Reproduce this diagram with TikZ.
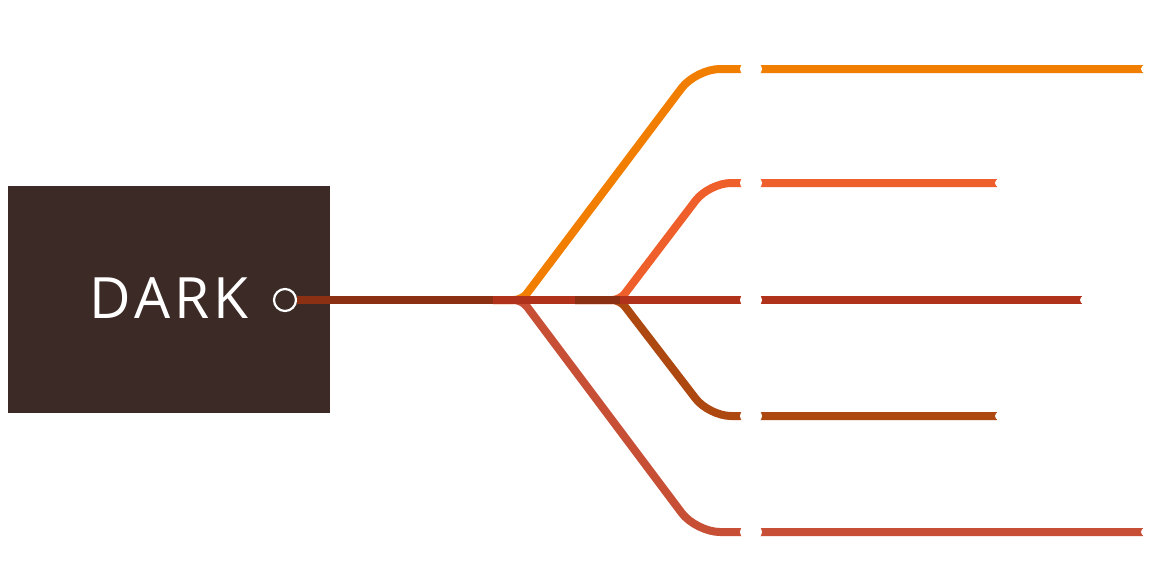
\documentclass[tikz,border=0pt]{standalone}
\usepackage{fontspec}
\setmainfont{Open Sans}
\newfontfamily\labelfont[LetterSpace=7]{Open Sans}
\usetikzlibrary{calc,shapes.geometric}
\definecolor{boxc}{HTML}{3C2A26}
\definecolor{trunkc}{HTML}{8B3012}
\definecolor{orangec}{HTML}{F27E00}
\definecolor{upperc}{HTML}{EF5F2B}
\definecolor{midc}{HTML}{B1321A}
\definecolor{lowerc}{HTML}{AE4811}
\definecolor{bottomc}{HTML}{C64F35}
\begin{document}
\begin{tikzpicture}[x=1pt,y=-1pt,
  branch/.style={line width=8pt, line cap=butt},
  topicdot/.style={ellipse, fill=white, minimum width=22pt, minimum height=16pt, inner sep=0pt},
  endnotch/.style={circle, fill=white, minimum size=8pt, inner sep=0pt}]
\useasboundingbox (0,0) rectangle (1173,568);
% root
\node[fill=boxc, minimum width=322pt, minimum height=227pt, inner sep=0pt, anchor=north west] (root) at (8,186) {};
\node[text=white, font=\labelfont\fontsize{57}{60}\selectfont, anchor=base, inner sep=0pt] (label) at (169,318) {DARK};
\node[circle, draw=white, line width=2.2pt, fill=boxc, minimum size=22pt, inner sep=0pt] (rc) at (285,300) {};
% coordinates
\coordinate (f1) at (493,300);
\coordinate (f2) at (575,300);
\coordinate (f2b) at (620,300);
\coordinate (aend) at (1143,69);
\coordinate (bend) at (997,183);
\coordinate (cend) at (1082,300);
\coordinate (dend) at (997,416);
\coordinate (eend) at (1143,532);
% trunk
\draw[branch, trunkc] (rc.east) -- (f1);
% first fork
\draw[branch, orangec, rounded corners=8pt] (f1) -- (522,300) [rounded corners=24pt] -- (696,69) -- (aend);
\draw[branch, bottomc, rounded corners=8pt] (f1) -- (522,300) [rounded corners=24pt] -- (696,532) -- (eend);
% second fork
\draw[branch, upperc, rounded corners=8pt] (f2) -- (f2b) [rounded corners=22pt] -- (709,183) -- (bend);
\draw[branch, lowerc, rounded corners=8pt] (f2) -- (f2b) [rounded corners=22pt] -- (709,416) -- (dend);
\draw[branch, midc] (f1) -- (cend);
\draw[branch, trunkc] (f2) -- (f2b);
% topic dots
\node[topicdot] (ta) at (751,69) {};
\node[topicdot] (tb) at (751,183) {};
\node[topicdot] (tc) at (751,300) {};
\node[topicdot] (td) at (751,416) {};
\node[topicdot] (te) at (751,532) {};
% end notches
\node[endnotch] (na) at ($(aend)+(2,0)$) {};
\node[endnotch] (nb) at ($(bend)+(2,0)$) {};
\node[endnotch] (nc) at ($(cend)+(2,0)$) {};
\node[endnotch] (nd) at ($(dend)+(2,0)$) {};
\node[endnotch] (ne) at ($(eend)+(2,0)$) {};
\end{tikzpicture}
\end{document}
